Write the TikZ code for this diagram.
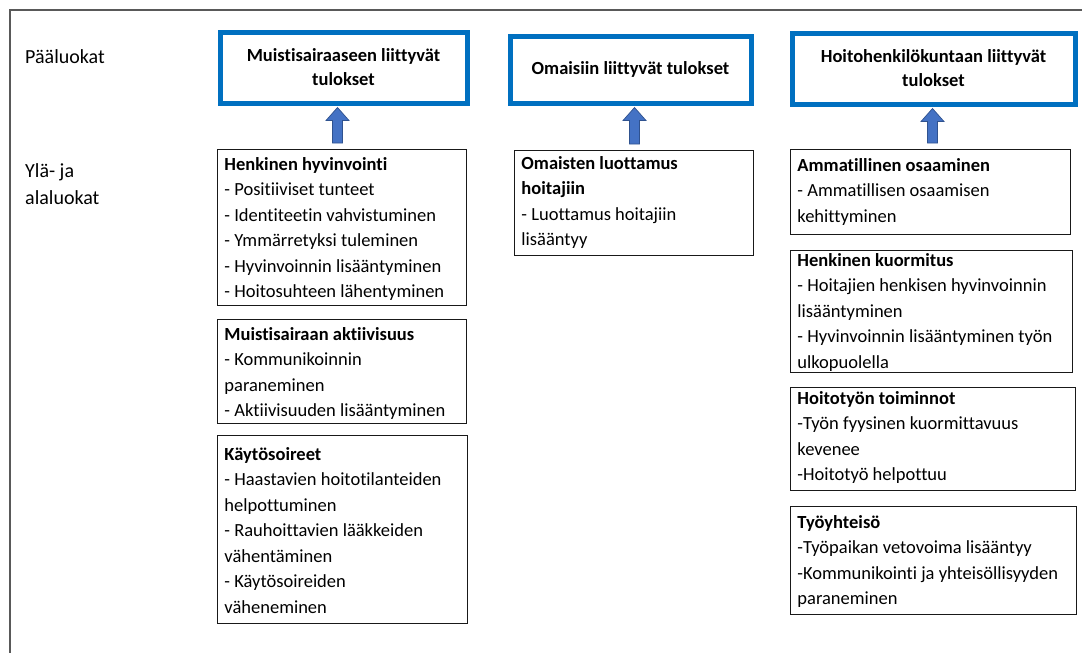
\documentclass[tikz,border=0pt]{standalone}
\usepackage{fontspec}
\setmainfont{Carlito}[Ligatures=NoCommon]
\usetikzlibrary{calc}
\definecolor{hdrblue}{HTML}{0070C0}
\definecolor{arrfill}{HTML}{4472C4}
\definecolor{arrline}{HTML}{2F528F}
\definecolor{framegray}{HTML}{595959}
\newcommand{\bxt}[4]{\parbox[t][#2pt][t]{\dimexpr#1pt-7pt\relax}{\raggedright\rule{0pt}{#3pt}#4}}
\tikzset{
  tbox/.style={draw=black!90, line width=0.9pt, inner xsep=0pt, inner ysep=0pt, anchor=north west, align=left,
    font=\fontsize{18.5}{25.5}\selectfont},
  hbox/.style={draw=hdrblue, line width=5pt, inner sep=0pt, anchor=north west, align=center,
    font=\fontsize{18.5}{24}\selectfont\bfseries},
  barrow/.style={fill=arrfill, draw=arrline, line width=0.7pt, line join=miter},
  sidelbl/.style={anchor=west, align=left, font=\fontsize{20}{27}\selectfont, inner sep=0pt}
}
\begin{document}
\begin{tikzpicture}[x=1pt,y=-1pt]
\useasboundingbox (0,0) rectangle (1082,653);
\draw[framegray, line width=1.2pt] (10,653) -- (10,10) -- (1082,10);

\node[sidelbl] (lblmain) at (25,57) {Pääluokat};
\node[sidelbl] (lblsub) at (25,184) {Ylä- ja\\alaluokat};

% header boxes
\node[hbox, minimum width=247pt, minimum height=71pt] (h1) at (217.5,29.5) {Muistisairaaseen liittyvät\\tulokset};
\node[hbox, minimum width=241pt, minimum height=67pt] (h2) at (507.5,33.5) {Omaisiin liittyvät tulokset};
\node[hbox, minimum width=283pt, minimum height=71pt] (h3) at (789.5,30.5) {Hoitohenkilökuntaan liittyvät\\tulokset};

% column 1
\node[tbox] (A) at (217,149) {\hspace{7pt}\bxt{249}{156}{21}{\textbf{Henkinen hyvinvointi}\\- Positiiviset tunteet\\- Identiteetin vahvistuminen\\- Ymmärretyksi tuleminen\\- Hyvinvoinnin lisääntyminen\\- Hoitosuhteen lähentyminen}};
\node[tbox] (B) at (217,319) {\hspace{7pt}\bxt{249}{104}{21}{\textbf{Muistisairaan aktiivisuus}\\- Kommunikoinnin\\paraneminen\\- Aktiivisuuden lisääntyminen}};
\node[tbox] (C) at (217,435) {\hspace{7pt}\bxt{250}{188}{25}{\textbf{Käytösoireet}\\- Haastavien hoitotilanteiden\\helpottuminen\\- Rauhoittavien lääkkeiden\\vähentäminen\\- Käytösoireiden\\väheneminen}};

% column 2
\node[tbox] (D) at (514,150) {\hspace{7pt}\bxt{239}{105}{19}{\textbf{Omaisten luottamus}\\\textbf{hoitajiin}\\- Luottamus hoitajiin\\lisääntyy}};

% column 3
\node[tbox] (E) at (790,149) {\hspace{7pt}\bxt{280}{85}{22}{\textbf{Ammatillinen osaaminen}\\- Ammatillisen osaamisen\\kehittyminen}};
\node[tbox] (F) at (790,250) {\hspace{7pt}\bxt{282}{122}{16}{\textbf{Henkinen kuormitus}\\- Hoitajien henkisen hyvinvoinnin\\lisääntyminen\\- Hyvinvoinnin lisääntyminen työn\\ulkopuolella}};
\node[tbox] (G) at (790,387) {\hspace{7pt}\bxt{285}{103}{17}{\textbf{Hoitotyön toiminnot}\\-Työn fyysinen kuormittavuus\\kevenee\\-Hoitotyö helpottuu}};
\node[tbox] (H) at (790,506) {\hspace{7pt}\bxt{286}{108}{22}{\textbf{Työyhteisö}\\-Työpaikan vetovoima lisääntyy\\-Kommunikointi ja yhteisöllisyyden\\paraneminen}};

% block arrows
\foreach \lo/\hi/\dx in {A/h1/-6, D/h2/4, E/h3/-1}{
  \coordinate (tip) at ($(\hi.south)+(\dx,2)$);
  \coordinate (base) at (tip |- \lo.north);
  \draw[barrow] ($(base)+(-5,-6)$) -- ($(base)+(5,-6)$)
    -- ($(tip)+(5,13)$) -- ($(tip)+(11.5,13)$)
    -- (tip) -- ($(tip)+(-11.5,13)$)
    -- ($(tip)+(-5,13)$) -- cycle;
}
\end{tikzpicture}
\end{document}
